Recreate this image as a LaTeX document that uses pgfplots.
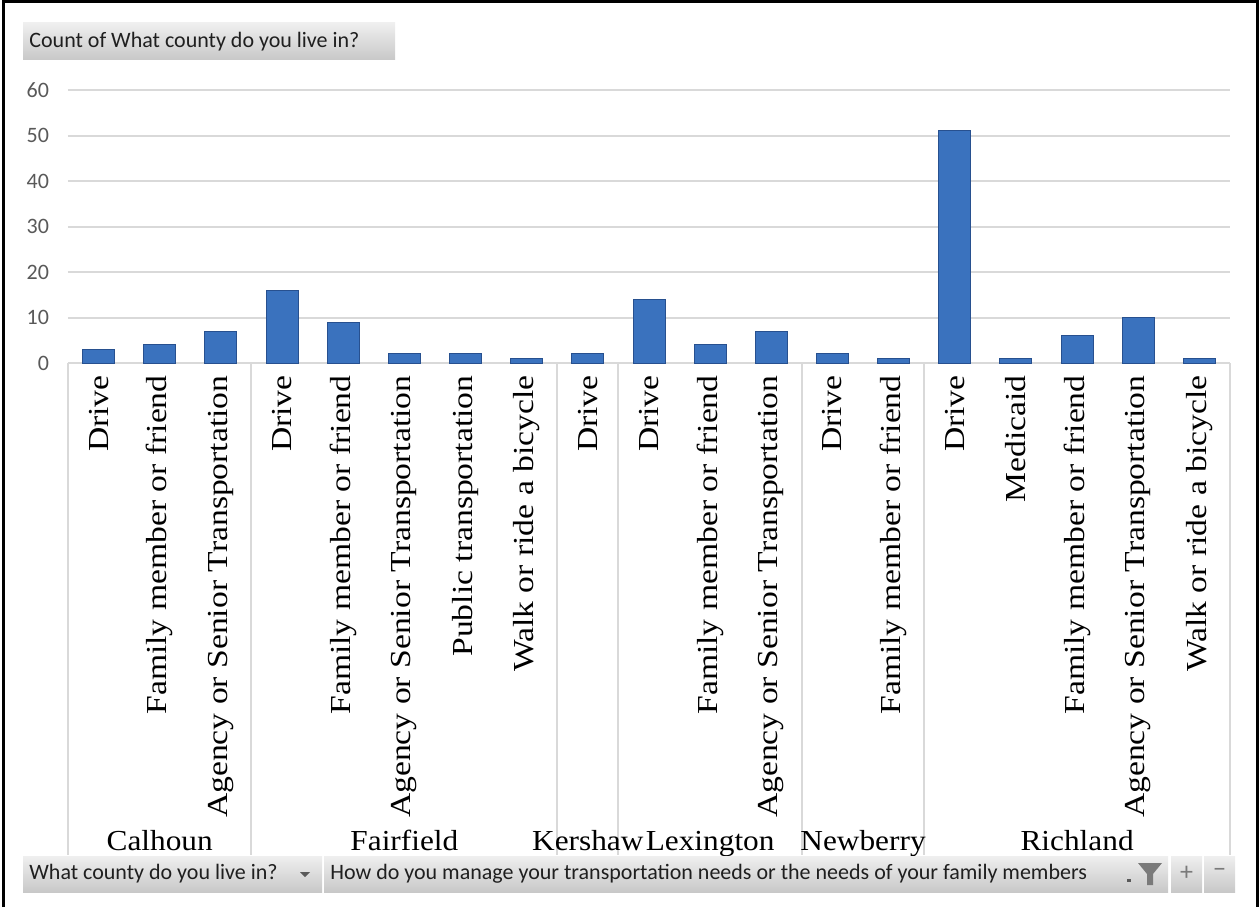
\documentclass[border=0pt]{standalone}
\usepackage{fontspec}
\setmainfont{Liberation Serif}
\newfontfamily\cambria[FakeStretch=1.16]{Liberation Serif}
\newfontfamily\cambriagrp[FakeStretch=1.08]{Liberation Serif}
\newfontfamily\calibri{Carlito}
\usepackage{pgfplots}
\pgfplotsset{compat=1.18}

\definecolor{gridgray}{HTML}{D9D9D9}
\definecolor{ticktext}{HTML}{595959}
\definecolor{barfill}{HTML}{3A72BE}
\definecolor{baredge}{HTML}{27508F}
\definecolor{btntop}{HTML}{EFEFEF}
\definecolor{btnbot}{HTML}{C8C8C8}
\definecolor{btntext}{HTML}{1F1F1F}

\begin{document}
\begin{tikzpicture}[x=0.5pt,y=0.5pt] % one unit = one pixel of the reference
\path[use as bounding box] (0,0) rectangle (1260,907);
\draw[line width=1.5pt] (3,0) -- (3,905) -- (1257,905) -- (1257,0);

% field button on top
\shade[top color=btntop, bottom color=btnbot] (23,847) rectangle (395,884);
\node[anchor=west, inner sep=0pt, text=btntext, font=\calibri\fontsize{11}{13}\selectfont] at (29,865.5) {Count of What county do you live in?};

\begin{axis}[
    at={(34pt,272pt)}, anchor=south west,
    scale only axis, width=581pt, height=136.5pt,
    xmin=-0.5, xmax=18.5, ymin=0, ymax=60,
    ytick={0,10,...,60},
    xtick={0,...,18},
    xticklabels={Drive, Family member or friend, Agency or Senior Transportation,
        Drive, Family member or friend, Agency or Senior Transportation, Public transportation, Walk or ride a bicycle,
        Drive,
        Drive, Family member or friend, Agency or Senior Transportation,
        Drive, Family member or friend,
        Drive, Medicaid, Family member or friend, Agency or Senior Transportation, Walk or ride a bicycle},
    x tick label style={rotate=90, anchor=east, font=\cambria\fontsize{14.5}{16}\selectfont, inner sep=0pt},
    xticklabel shift=6pt,
    y tick label style={font=\calibri\fontsize{11}{13}\selectfont, text=ticktext, /pgf/number format/assume math mode=true},
    yticklabel shift=6pt,
    ymajorgrids, grid style={gridgray, line width=1pt},
    axis line style={draw=none}, major tick style={draw=none},
    clip=false,
]
\addplot[ybar, bar width=16pt, fill=barfill, draw=baredge, line width=0.5pt]
coordinates {
    (0,3) (1,4) (2,7)
    (3,16) (4,9) (5,2) (6,2) (7,1)
    (8,2)
    (9,14) (10,4) (11,7)
    (12,2) (13,1)
    (14,51) (15,1) (16,6) (17,10) (18,1)
};
% group separators
\pgfplotsinvokeforeach{-0.5,2.5,7.5,8.5,11.5,13.5,18.5}{
    \draw[gridgray, line width=1pt] (axis cs:#1,0) -- ([yshift=-246pt]axis cs:#1,0);
}
% group labels
\node[anchor=base, inner sep=0pt, font=\cambriagrp\fontsize{14.5}{16}\selectfont] at ([yshift=-243.5pt]axis cs:1,0) {Calhoun};
\node[anchor=base, inner sep=0pt, font=\cambriagrp\fontsize{14.5}{16}\selectfont] at ([yshift=-243.5pt]axis cs:5,0) {Fairfield};
\node[anchor=base, inner sep=0pt, font=\cambriagrp\fontsize{14.5}{16}\selectfont] at ([yshift=-243.5pt]axis cs:8,0) {Kershaw};
\node[anchor=base, inner sep=0pt, font=\cambriagrp\fontsize{14.5}{16}\selectfont] at ([yshift=-243.5pt]axis cs:10,0) {Lexington};
\node[anchor=base, inner sep=0pt, font=\cambriagrp\fontsize{14.5}{16}\selectfont] at ([yshift=-243.5pt]axis cs:12.5,0) {Newberry};
\node[anchor=base, inner sep=0pt, font=\cambriagrp\fontsize{14.5}{16}\selectfont] at ([yshift=-243.5pt]axis cs:16,0) {Richland};
\end{axis}

% field buttons at the bottom
\shade[top color=btntop, bottom color=btnbot] (23,15) rectangle (322,51);
\node[anchor=west, inner sep=0pt, text=btntext, font=\calibri\fontsize{11}{13}\selectfont] at (29,33) {What county do you live in?};
\fill[ticktext] (300,35) -- (310,35) -- (305,30) -- cycle;
\shade[top color=btntop, bottom color=btnbot] (324,15) rectangle (1168,51);
\node[anchor=west, inner sep=0pt, text=btntext, font=\calibri\fontsize{11}{13}\selectfont] at (330,33) {How do you manage your transportation needs or the needs of your family members};
\fill[ticktext!80] (1138,44) -- (1162,44) -- (1153,33) -- (1153,22) -- (1147,22) -- (1147,33) -- cycle;
\fill[ticktext] (1127,25) rectangle (1131,28);
\shade[top color=btntop, bottom color=btnbot] (1171,15) rectangle (1202,51);
\node[text=ticktext!80, font=\calibri\fontsize{13}{15}\selectfont] at (1186.5,34) {+};
\shade[top color=btntop, bottom color=btnbot] (1204,15) rectangle (1235,51);
\node[text=ticktext!80, font=\calibri\fontsize{13}{15}\selectfont] at (1219.5,34) {\char"2212};
\end{tikzpicture}
\end{document}
